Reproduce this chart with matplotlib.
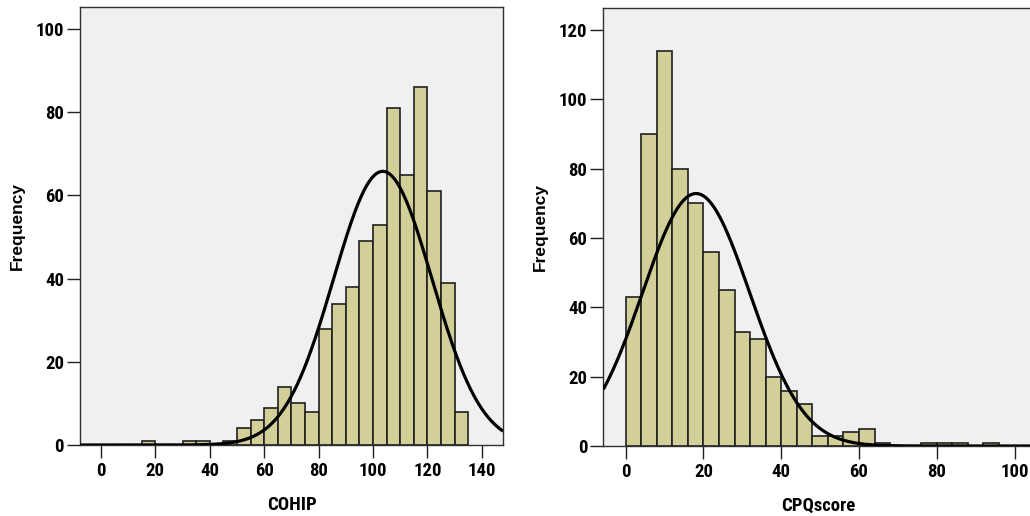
import numpy as np
import matplotlib
matplotlib.use("Agg")
import matplotlib.pyplot as plt

# ---- data ----
cohip_edges = [15, 20, 25, 30, 35, 40, 45, 50, 55, 60, 65, 70, 75, 80, 85, 90,
               95, 100, 105, 110, 115, 120, 125, 130, 135]
cohip_counts = [1, 0, 0, 1, 1, 0, 1, 4, 6, 9, 14, 10, 8, 28, 34, 38,
                49, 53, 81, 65, 86, 61, 39, 8]
cohip_mean = 103.6
cohip_sd = 18.1
cohip_n = 597
cohip_bin = 5

cpq_edges = [0, 4, 8, 12, 16, 20, 24, 28, 32, 36, 40, 44, 48, 52, 56, 60, 64,
             68, 72, 76, 80, 84, 88, 92, 96]
cpq_counts = [43, 90, 114, 80, 70, 56, 45, 33, 31, 20, 16, 12, 3, 3, 4, 5, 1,
              0, 0, 1, 1, 1, 0, 1]
cpq_mean = 18.1
cpq_sd = 13.8
cpq_n = 630
cpq_bin = 4

cohip_xticks = [0, 20, 40, 60, 80, 100, 120, 140]
cohip_yticks = [0, 20, 40, 60, 80, 100]
cpq_xticks = [0, 20, 40, 60, 80, 100]
cpq_yticks = [0, 20, 40, 60, 80, 100, 120]

# ---- fonts ----
plt.rcParams['font.family'] = ['Roboto Condensed', 'Liberation Sans', 'DejaVu Sans']

BAR = "#D3CF98"
EDGE = "#202020"
BG = "#F0F0F0"

fig = plt.figure(figsize=(10.30, 5.16), dpi=100)


def panel(rect, edges, counts, mean, sd, n, binw, xlim, ylim, xticks, yticks, xlabel):
    ax = fig.add_axes(rect)
    ax.set_facecolor(BG)
    lefts = edges[:-1]
    ax.bar(lefts, counts, width=binw, align='edge', color=BAR,
           edgecolor=EDGE, linewidth=1.2, zorder=2)
    xs = np.linspace(xlim[0], xlim[1], 600)
    ys = n * binw / (sd * np.sqrt(2 * np.pi)) * np.exp(-0.5 * ((xs - mean) / sd) ** 2)
    ax.plot(xs, ys, color='black', linewidth=2.3, zorder=3, solid_capstyle='butt')
    ax.set_xlim(*xlim)
    ax.set_ylim(*ylim)
    ax.set_xticks(xticks)
    ax.set_yticks(yticks)
    for lab in ax.get_xticklabels() + ax.get_yticklabels():
        lab.set_fontweight('bold')
        lab.set_fontsize(13.5)
    ax.tick_params(axis='both', direction='out', length=9.5, width=1.0,
                   color='#202020', pad=2.0)
    ax.tick_params(axis='x', pad=3.0)
    for s in ax.spines.values():
        s.set_color('#303030')
        s.set_linewidth(1.0)
    ax.set_xlabel(xlabel, fontsize=13.5, fontweight='bold', labelpad=11)
    ax.set_ylabel('Frequency', fontsize=12.5, fontweight='bold', labelpad=8,
                  family=['Liberation Sans', 'DejaVu Sans'])
    return ax


H = 516.0
W = 1030.0
# left panel: 80..503 px horizontally, 7..445 px vertically
panel([80 / W, 1 - 445 / H, (503 - 80) / W, (445 - 7) / H],
      cohip_edges, cohip_counts, cohip_mean, cohip_sd, cohip_n, cohip_bin,
      (-7.7, 147.8), (0, 105.3), cohip_xticks, cohip_yticks, 'COHIP')

# right panel: 603..1034 px horizontally, 8..446 px vertically
panel([603.3 / W, 1 - 446 / H, (1034 - 603.3) / W, (446 - 8.3) / H],
      cpq_edges, cpq_counts, cpq_mean, cpq_sd, cpq_n, cpq_bin,
      (-5.76, 105.0), (0, 126.3), cpq_xticks, cpq_yticks, 'CPQscore')

fig.savefig("out.png", dpi=100)
